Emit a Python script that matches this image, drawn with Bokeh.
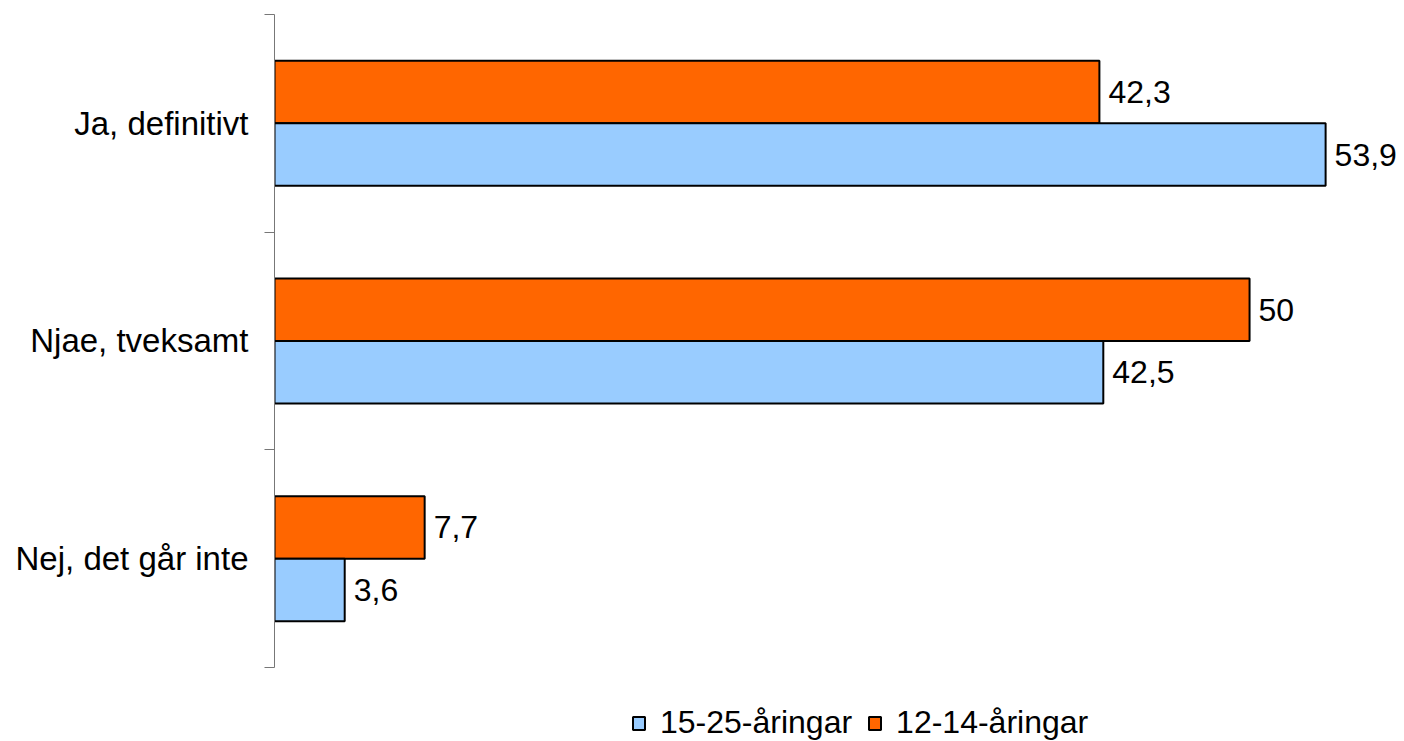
from bokeh.plotting import figure
from bokeh.models import ColumnDataSource, Range1d, FixedTicker, Legend, LegendItem
from bokeh.transform import dodge
from bokeh.core.properties import value
from bokeh.embed import file_html
from bokeh.resources import INLINE

# ---- data ----
categories = ["Ja, definitivt", "Njae, tveksamt", "Nej, det går inte"]
series_15_25 = [53.9, 42.5, 3.6]
series_12_14 = [42.3, 50.0, 7.7]
legend_labels = ["15-25-åringar", "12-14-åringar"]

FONT = "Liberation Sans"
BLUE = "#99CCFF"
ORANGE = "#FF6600"

n = len(categories)
pos = [n - i - 0.5 for i in range(n)]


def fmt(v):
    return f"{v:g}".replace(".", ",")


src = ColumnDataSource(dict(
    pos=pos,
    cat=categories,
    a=series_15_25,
    b=series_12_14,
    a_lbl=[fmt(v) for v in series_15_25],
    b_lbl=[fmt(v) for v in series_12_14],
))

p = figure(
    width=1400, height=741, output_backend="svg", toolbar_location=None, title=None,
    x_range=Range1d(0, 57.74), y_range=Range1d(-0.34, 3),
    x_axis_location=None,
    min_border_left=274, min_border_right=0, min_border_top=14, min_border_bottom=0,
)
p.outline_line_color = None
p.grid.visible = False
p.background_fill_color = "white"
p.border_fill_color = "white"

bh = 0.287
off = bh / 2

ro = p.hbar(y=dodge("pos", off), left=0, right="b", height=bh, source=src,
            fill_color=ORANGE, line_color="black", line_width=2)
rb = p.hbar(y=dodge("pos", -off), left=0, right="a", height=bh, source=src,
            fill_color=BLUE, line_color="black", line_width=2)

for fld, lbl, o in (("b", "b_lbl", off), ("a", "a_lbl", -off)):
    p.text(x=fld, y=dodge("pos", o), text=lbl, source=src, x_offset=9,
           text_baseline="middle", text_align="left",
           text_font=value(FONT), text_font_size="32px", text_color="black")

yax = p.yaxis[0]
yax.ticker = FixedTicker(ticks=pos, minor_ticks=[0, 1, 2, 3])
yax.major_label_overrides = {float(t): c for t, c in zip(pos, categories)}
yax.bounds = (0, 3)
yax.axis_line_color = "#777777"
yax.axis_line_width = 1
yax.minor_tick_line_color = "#777777"
yax.minor_tick_out = 10
yax.minor_tick_in = 0
yax.major_tick_line_color = None
yax.major_tick_out = 0
yax.major_tick_in = 0
yax.major_label_standoff = 16
yax.major_label_text_font = FONT
yax.major_label_text_font_size = "33px"
yax.major_label_text_color = "black"

legend = Legend(
    items=[LegendItem(label=legend_labels[0], renderers=[rb]),
           LegendItem(label=legend_labels[1], renderers=[ro])],
    orientation="horizontal", location=(357, 0),
    glyph_width=15, glyph_height=16, label_standoff=14, spacing=15,
    padding=0, margin=0, border_line_color=None, background_fill_alpha=0,
    label_text_font=FONT, label_text_font_size="32px", label_text_color="black",
)
p.add_layout(legend, "center")

open("out.html", "w").write(file_html(p, INLINE))
